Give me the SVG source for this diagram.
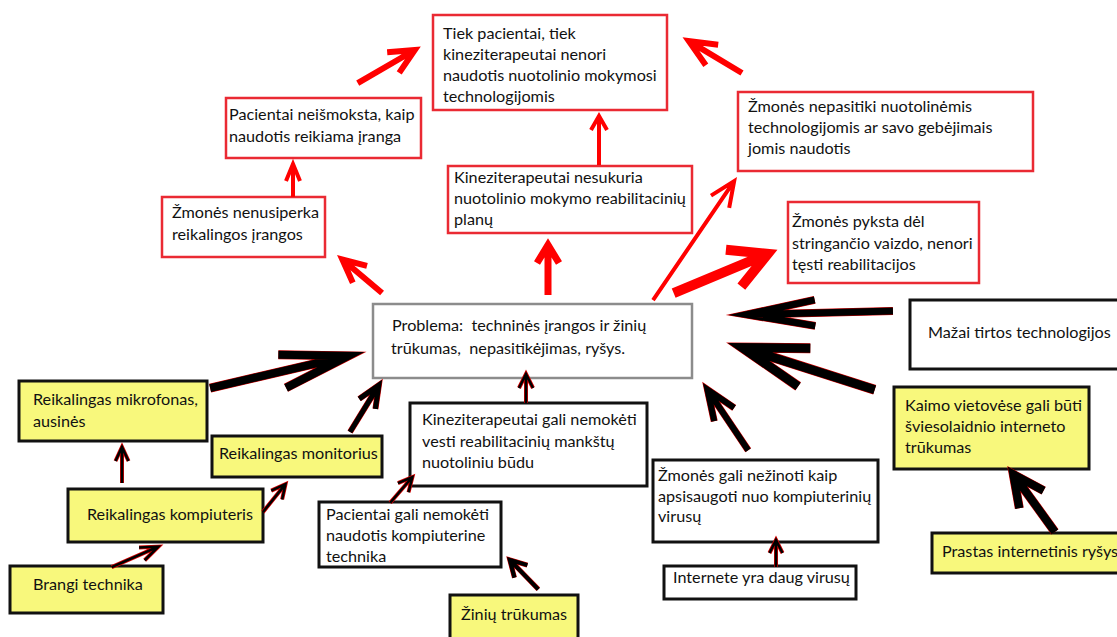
<svg xmlns="http://www.w3.org/2000/svg" width="1117" height="637" viewBox="0 0 1117 637">
<style>
text{font-family:Lato,"Liberation Sans",sans-serif;font-size:16.2px;fill:#111;white-space:pre}
.rb{fill:#fff;stroke:#ea2a33;stroke-width:2.5}
.gb{fill:#fff;stroke:#8c8c8c;stroke-width:2.5}
.wb{fill:#fff;stroke:#111;stroke-width:3}
.yb{fill:#f8f87c;stroke:#111;stroke-width:3}
.ar path{fill:none;stroke:#ff0000;stroke-linejoin:miter;stroke-miterlimit:20}
.ad path{fill:none;stroke-linejoin:miter;stroke-miterlimit:20}
.ad path.u{stroke:#d40000}
.ad path.o{stroke:#000}
</style>
<rect width="1117" height="637" fill="#fff"/>

<g id="n-tiek"><rect class="rb" x="433" y="15" width="234" height="95"/>
<text x="443" y="39">Tiek pacientai, tiek</text><text x="443" y="60">kineziterapeutai nenori</text><text x="443" y="81">naudotis nuotolinio mokymosi</text><text x="443" y="102">technologijomis</text></g>
<g id="n-pacientai-neismoksta"><rect class="rb" x="226" y="98" width="195" height="60"/>
<text x="229" y="120">Pacientai neišmoksta, kaip</text><text x="229" y="142">naudotis reikiama įranga</text></g>
<g id="n-nenusiperka"><rect class="rb" x="162" y="197" width="163" height="60"/>
<text x="172" y="218">Žmonės nenusiperka</text><text x="172" y="240">reikalingos įrangos</text></g>
<g id="n-nesukuria"><rect class="rb" x="448" y="166" width="244" height="67"/>
<text x="454" y="183">Kineziterapeutai nesukuria</text><text x="454" y="204">nuotolinio mokymo reabilitacinių</text><text x="454" y="225">planų</text></g>
<g id="n-nepasitiki"><rect class="rb" x="738" y="92" width="295" height="79"/>
<text x="748" y="112">Žmonės nepasitiki nuotolinėmis</text><text x="748" y="133">technologijomis ar savo gebėjimais</text><text x="748" y="154">jomis naudotis</text></g>
<g id="n-pyksta"><rect class="rb" x="788" y="202" width="191" height="81"/>
<text x="792" y="227">Žmonės pyksta dėl</text><text x="792" y="249">stringančio vaizdo, nenori</text><text x="792" y="270">tęsti reabilitacijos</text></g>

<g id="n-problema"><rect class="gb" x="373" y="304" width="319" height="74"/>
<text x="392" y="331">Problema:  techninės įrangos ir žinių</text><text x="391" y="354">trūkumas,  nepasitikėjimas, ryšys.</text></g>

<g id="n-mazai"><rect class="wb" x="910" y="300" width="215" height="69"/>
<text x="928" y="338">Mažai tirtos technologijos</text></g>
<g id="n-kine-gali"><rect class="wb" x="410" y="403" width="237" height="83"/>
<text x="422" y="425">Kineziterapeutai gali nemokėti</text><text x="422" y="447">vesti reabilitacinių mankštų</text><text x="422" y="468">nuotoliniu būdu</text></g>
<g id="n-pac-gali"><rect class="wb" x="319" y="502" width="182" height="65"/>
<text x="326" y="520">Pacientai gali nemokėti</text><text x="326" y="541">naudotis kompiuterine</text><text x="326" y="562">technika</text></g>
<g id="n-nezinoti"><rect class="wb" x="653" y="460" width="225" height="82"/>
<text x="658" y="481">Žmonės gali nežinoti kaip</text><text x="658" y="502">apsisaugoti nuo kompiuterinių</text><text x="658" y="522">virusų</text></g>
<g id="n-internete"><rect class="wb" x="664" y="566" width="192" height="33"/>
<text x="673" y="583">Internete yra daug virusų</text></g>

<g id="n-mikrofonas"><rect class="yb" x="19" y="381" width="188" height="60"/>
<text x="33" y="405">Reikalingas mikrofonas,</text><text x="33" y="427">ausinės</text></g>
<g id="n-monitorius"><rect class="yb" x="212" y="436" width="170" height="41"/>
<text x="219" y="459">Reikalingas monitorius</text></g>
<g id="n-kompiuteris"><rect class="yb" x="68" y="489" width="195" height="53"/>
<text x="87" y="520">Reikalingas kompiuteris</text></g>
<g id="n-brangi"><rect class="yb" x="10" y="566" width="153" height="47"/>
<text x="33" y="590">Brangi technika</text></g>
<g id="n-ziniu"><rect class="yb" x="450" y="595" width="128" height="50"/>
<text x="461" y="620">Žinių trūkumas</text></g>
<g id="n-kaimo"><rect class="yb" x="894" y="387" width="195" height="82"/>
<text x="905" y="411">Kaimo vietovėse gali būti</text><text x="905" y="432">šviesolaidnio interneto</text><text x="905" y="453">trūkumas</text></g>
<g id="n-prastas"><rect class="yb" x="932" y="533" width="195" height="40"/>
<text x="942" y="557">Prastas internetinis ryšys</text></g>

<g id="connectors">
<g class="ar">
<path transform="translate(420,47) rotate(-30.1)" stroke-width="6" d="M-72,0H-6M-31,-12L-6,0L-31,12"/>
<path transform="translate(682,37) rotate(-149)" stroke-width="6" d="M-70,0H-8M-35,-12L-8,0L-35,12"/>
<path transform="translate(293,159) rotate(-90)" stroke-width="4" d="M-38,0H-5M-22,-7L-5,0L-22,7"/>
<path transform="translate(337,255) rotate(-139.8)" stroke-width="6" d="M-59,0H-7M-30,-11L-7,0L-30,11"/>
<path transform="translate(548,238) rotate(-90)" stroke-width="7" d="M-57,0H-7M-25,-11L-7,0L-25,11"/>
<path transform="translate(599,112) rotate(-90)" stroke-width="4" d="M-53,0H-4M-18,-8L-4,0L-18,8"/>
<path transform="translate(737,177) rotate(-55.7)" stroke-width="4" d="M-149,0H-5M-30,-11L-5,0L-30,11"/>
<path transform="translate(777,250) rotate(-22.7)" stroke-width="10" d="M-112,0H-10M-47,-20L-10,0L-47,20"/>
</g>
<g class="ad">
<path class="u" transform="translate(727,315) rotate(178.6)" stroke-width="8" d="M-166,0H-20M-88,-13L-20,0L-88,13"/>
<path class="o" transform="translate(727,315) rotate(178.6)" stroke-width="7" d="M-166,0H-20M-88,-13L-20,0L-88,13"/>
<path class="u" transform="translate(728,343) rotate(-162.3)" stroke-width="10" d="M-154,0H-15M-80,-20L-15,0L-80,20"/>
<path class="o" transform="translate(728,343) rotate(-162.3)" stroke-width="9" d="M-154,0H-15M-80,-20L-15,0L-80,20"/>
<path class="u" transform="translate(365,352) rotate(-13.1)" stroke-width="9" d="M-159,0H-17M-85,-17L-17,0L-85,17"/>
<path class="o" transform="translate(365,352) rotate(-13.1)" stroke-width="8" d="M-159,0H-17M-85,-17L-17,0L-85,17"/>
<path class="u" transform="translate(382,380) rotate(-58.4)" stroke-width="6" d="M-61,0H-6M-28,-9.5L-6,0L-28,9.5"/>
<path class="o" transform="translate(382,380) rotate(-58.4)" stroke-width="5" d="M-61,0H-6M-28,-9.5L-6,0L-28,9.5"/>
<path class="u" transform="translate(703,383) rotate(-123.9)" stroke-width="7" d="M-81,0H-8M-38,-12L-8,0L-38,12"/>
<path class="o" transform="translate(703,383) rotate(-123.9)" stroke-width="6" d="M-81,0H-8M-38,-12L-8,0L-38,12"/>
<path class="u" transform="translate(1008,467) rotate(-125.9)" stroke-width="9" d="M-80,0H-9M-40,-15L-9,0L-40,15"/>
<path class="o" transform="translate(1008,467) rotate(-125.9)" stroke-width="8" d="M-80,0H-9M-40,-15L-9,0L-40,15"/>
<path class="u" transform="translate(122,443) rotate(-90)" stroke-width="4" d="M-40,0H-4M-18,-6.5L-4,0L-18,6.5"/>
<path class="o" transform="translate(122,443) rotate(-90)" stroke-width="2.5" d="M-40,0H-4M-18,-6.5L-4,0L-18,6.5"/>
<path class="u" transform="translate(288,481) rotate(-51.1)" stroke-width="4" d="M-40,0H-4M-18,-7L-4,0L-18,7"/>
<path class="o" transform="translate(288,481) rotate(-51.1)" stroke-width="2.5" d="M-40,0H-4M-18,-7L-4,0L-18,7"/>
<path class="u" transform="translate(162,545) rotate(-23.7)" stroke-width="4" d="M-55,0H-4M-22,-7L-4,0L-22,7"/>
<path class="o" transform="translate(162,545) rotate(-23.7)" stroke-width="2.5" d="M-55,0H-4M-22,-7L-4,0L-22,7"/>
<path class="u" transform="translate(415,474) rotate(-49.2)" stroke-width="4" d="M-38,0H-4M-18,-7L-4,0L-18,7"/>
<path class="o" transform="translate(415,474) rotate(-49.2)" stroke-width="2.5" d="M-38,0H-4M-18,-7L-4,0L-18,7"/>
<path class="u" transform="translate(526,370) rotate(-90)" stroke-width="4" d="M-33,0H-4M-18,-7L-4,0L-18,7"/>
<path class="o" transform="translate(526,370) rotate(-90)" stroke-width="2.5" d="M-33,0H-4M-18,-7L-4,0L-18,7"/>
<path class="u" transform="translate(507,557) rotate(-134.1)" stroke-width="5" d="M-45,0H-4M-20,-9L-4,0L-20,9"/>
<path class="o" transform="translate(507,557) rotate(-134.1)" stroke-width="4" d="M-45,0H-4M-20,-9L-4,0L-20,9"/>
<path class="u" transform="translate(776,536) rotate(-90)" stroke-width="4" d="M-31,0H-4M-17,-6.5L-4,0L-17,6.5"/>
<path class="o" transform="translate(776,536) rotate(-90)" stroke-width="2.5" d="M-31,0H-4M-17,-6.5L-4,0L-17,6.5"/>
</g>
</g>
</svg>
